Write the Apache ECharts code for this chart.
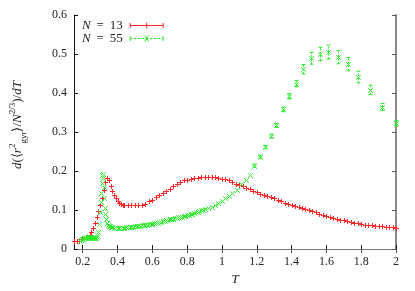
<!DOCTYPE html>
<html>
<head>
<meta charset="utf-8">
<script src="https://cdn.jsdelivr.net/npm/echarts@6/dist/echarts.min.js"></script>
<style>
html,body{margin:0;padding:0;background:#fff;}
#chart{width:415px;height:291px;}
</style>
</head>
<body>
<div id="chart"></div>
<script>
// ---- data ----
const xTicks = [0.2, 0.4, 0.6, 0.8, 1, 1.2, 1.4, 1.6, 1.8, 2];
const yTicks = [0, 0.1, 0.2, 0.3, 0.4, 0.5, 0.6];
const seriesNames = ['N = 13', 'N = 55'];

const redT = [0.15,0.165,0.18,0.195,0.21,0.225,0.24,0.25,0.26,0.27,0.28,0.29,0.30,0.31,0.32,0.33,0.34,0.35,0.36,0.37,0.38,0.39,0.40,0.41,0.42,0.43,0.44,0.46,0.48,0.50,0.52,0.54,0.56,0.58,0.60,0.62,0.64,0.66,0.68,0.70,0.72,0.74,0.76,0.78,0.80,0.82,0.84,0.86,0.88,0.90,0.92,0.94,0.96,0.98,1.00,1.02,1.04,1.06,1.08,1.10,1.12,1.14,1.16,1.18,1.20,1.22,1.24,1.26,1.28,1.30,1.32,1.34,1.36,1.38,1.40,1.42,1.44,1.46,1.48,1.50,1.52,1.54,1.56,1.58,1.60,1.62,1.64,1.66,1.68,1.70,1.72,1.74,1.76,1.78,1.80,1.82,1.84,1.86,1.88,1.90,1.92,1.94,1.96,1.98,2.00];
const redV = [0.020,0.020,0.021,0.025,0.029,0.032,0.036,0.045,0.055,0.067,0.082,0.097,0.113,0.132,0.152,0.172,0.182,0.177,0.163,0.150,0.138,0.130,0.124,0.119,0.116,0.114,0.113,0.112,0.113,0.114,0.114,0.112,0.116,0.122,0.127,0.133,0.139,0.144,0.148,0.155,0.162,0.168,0.173,0.176,0.178,0.179,0.181,0.182,0.184,0.185,0.185,0.186,0.184,0.182,0.180,0.179,0.176,0.172,0.168,0.165,0.161,0.157,0.153,0.150,0.146,0.142,0.139,0.136,0.133,0.130,0.127,0.123,0.118,0.115,0.113,0.110,0.107,0.105,0.103,0.100,0.097,0.094,0.091,0.088,0.085,0.083,0.080,0.078,0.075,0.074,0.072,0.070,0.068,0.066,0.064,0.063,0.062,0.061,0.059,0.058,0.058,0.057,0.056,0.056,0.055];

const greenT = [0.185,0.19,0.195,0.20,0.205,0.21,0.215,0.22,0.225,0.23,0.235,0.24,0.245,0.25,0.255,0.26,0.265,0.27,0.275,0.28,0.285,0.29,0.295,0.30,0.303,0.306,0.309,0.312,0.315,0.318,0.321,0.324,0.327,0.33,0.335,0.34,0.345,0.35,0.355,0.36,0.37,0.38,0.39,0.40,0.41,0.42,0.43,0.44,0.45,0.46,0.47,0.48,0.49,0.50,0.51,0.52,0.53,0.54,0.55,0.56,0.57,0.58,0.59,0.60,0.61,0.62,0.63,0.64,0.65,0.66,0.67,0.68,0.69,0.70,0.71,0.72,0.73,0.74,0.75,0.76,0.77,0.78,0.79,0.80,0.81,0.82,0.83,0.84,0.85,0.86,0.87,0.88,0.89,0.90,0.92,0.94,0.96,0.98,1.00,1.02,1.04,1.06,1.085,1.11,1.136,1.16,1.187,1.217,1.249,1.281,1.313,1.349,1.387,1.427,1.468,1.514,1.561,1.610,1.665,1.722,1.784,1.851,1.922,1.998];
const greenV = [0.020,0.023,0.025,0.027,0.028,0.029,0.029,0.029,0.030,0.030,0.030,0.030,0.030,0.029,0.029,0.028,0.028,0.028,0.029,0.030,0.036,0.045,0.065,0.095,0.120,0.145,0.170,0.190,0.192,0.183,0.160,0.130,0.105,0.090,0.078,0.068,0.063,0.060,0.058,0.057,0.056,0.055,0.054,0.054,0.054,0.055,0.055,0.055,0.056,0.056,0.056,0.057,0.057,0.058,0.058,0.059,0.060,0.061,0.061,0.062,0.063,0.064,0.064,0.065,0.066,0.067,0.068,0.069,0.070,0.071,0.072,0.074,0.075,0.076,0.077,0.078,0.079,0.080,0.081,0.082,0.083,0.084,0.085,0.087,0.088,0.090,0.091,0.093,0.094,0.096,0.098,0.100,0.101,0.103,0.106,0.109,0.114,0.119,0.124,0.131,0.137,0.144,0.152,0.166,0.177,0.191,0.214,0.237,0.262,0.290,0.317,0.358,0.392,0.424,0.461,0.489,0.500,0.505,0.492,0.474,0.441,0.408,0.364,0.323];
const greenErr = greenT.map(function (t, i) { return 0; });
const greenErrTop = [0.004,0.004,0.004,0.005,0.005,0.006,0.007,0.008,0.012,0.015,0.017,0.018,0.017,0.017,0.015,0.012,0.009,0.007];
// error bars belong to the last 18 (sparse, high-T) points
for (let k = 0; k < greenErrTop.length; k++) greenErr[greenT.length - greenErrTop.length + k] = greenErrTop[k];

// ---- styles ----
const RED = '#ff2828';
const GREEN = '#28ec28';
const FONT = 'Liberation Serif';

function renderPlus(params, api) {
  const p = api.coord([api.value(0), api.value(1)]);
  const x = Math.round(p[0]) + 0.5, y = Math.round(p[1]) + 0.5, s = 2.5;
  const st = {stroke: RED, lineWidth: 1, fill: null};
  return {type: 'group', children: [
    {type: 'line', shape: {x1: x - s, y1: y, x2: x + s, y2: y}, style: st},
    {type: 'line', shape: {x1: x, y1: y - s, x2: x, y2: y + s}, style: st}
  ]};
}
function renderCross(params, api) {
  const p = api.coord([api.value(0), api.value(1)]);
  const x = Math.round(p[0]) + 0.5, y = Math.round(p[1]) + 0.5, s = 2.3;
  const st = {stroke: GREEN, lineWidth: 1, fill: null};
  const ch = [
    {type: 'line', shape: {x1: x - s, y1: y - s, x2: x + s, y2: y + s}, style: st},
    {type: 'line', shape: {x1: x - s, y1: y + s, x2: x + s, y2: y - s}, style: st}
  ];
  const e = api.value(2);
  if (e > 0) {
    const lo = api.coord([api.value(0), api.value(1) - e]);
    const hi = api.coord([api.value(0), api.value(1) + e]);
    const ds = {stroke: GREEN, lineWidth: 1, fill: null, lineDash: [2, 1.5]};
    ch.push({type: 'line', shape: {x1: x, y1: lo[1], x2: x, y2: hi[1]}, style: ds});
    ch.push({type: 'line', shape: {x1: x - 2, y1: lo[1], x2: x + 2, y2: lo[1]}, style: st});
    ch.push({type: 'line', shape: {x1: x - 2, y1: hi[1], x2: x + 2, y2: hi[1]}, style: st});
  }
  return {type: 'group', children: ch};
}

// legend sample icons (error-bar style samples)
const redIcon = 'path://M0,2H1V7H0Z M33,2H34V7H33Z M0,4H34V5H0Z M16.5,1.5H17.5V7.5H16.5Z';
let gp = 'path://M0,2H1V7H0Z M33,2H34V7H33Z';
for (let x = 0; x < 34; x += 4) gp += ' M' + x + ',4H' + Math.min(x + 2.5, 34) + 'V5H' + x + 'Z';
gp += ' M14.5,1.5L15.5,1.5L19.5,7.5L18.5,7.5Z M19.5,1.5L18.5,1.5L14.5,7.5L15.5,7.5Z';
const greenIcon = gp;

const redData = redT.map((t, i) => [t, redV[i], 0]);
const greenData = greenT.map((t, i) => [t, greenV[i], greenErr[i]]);

const chart = echarts.init(document.getElementById('chart'), null, {renderer: 'canvas'});
const tickLabel = {fontFamily: FONT, fontSize: 12, color: '#222'};

chart.setOption({
  animation: false,
  backgroundColor: '#fff',
  grid: {left: 70, right: 19, top: 15, bottom: 41.5, containLabel: false},
  legend: {
    orient: 'vertical', left: 82, top: 19, padding: 0, itemGap: 0,
    align: 'right', itemWidth: 34, itemHeight: 6, selectedMode: false,
    data: [{name: seriesNames[0], icon: redIcon}, {name: seriesNames[1], icon: greenIcon}],
    formatter: function (n) { return '{i|N}{r| \u2009=\u2009 ' + n.slice(4) + '}'; },
    textStyle: {fontFamily: FONT, fontSize: 13, color: '#222', lineHeight: 12, padding: [0, 2, 0, 0],
      rich: {
        i: {fontFamily: FONT, fontStyle: 'italic', fontSize: 13, color: '#222', lineHeight: 12},
        r: {fontFamily: FONT, fontSize: 13, color: '#222', lineHeight: 12}
      }}
  },
  xAxis: [{
    type: 'value', min: 0.15, max: 2, position: 'bottom',
    name: 'T', nameLocation: 'middle', nameGap: 23,
    nameTextStyle: {fontFamily: FONT, fontStyle: 'italic', fontSize: 13, color: '#222'},
    axisLine: {show: true, lineStyle: {color: '#111', width: 1}},
    axisTick: {show: true, inside: true, length: 4, customValues: xTicks, lineStyle: {color: '#111'}},
    axisLabel: Object.assign({show: true, margin: 7, customValues: xTicks}, tickLabel),
    splitLine: {show: false}
  }, {
    type: 'value', min: 0.15, max: 2, position: 'top',
    axisLine: {show: true, lineStyle: {color: '#777', width: 1}},
    axisTick: {show: true, inside: true, length: 4, customValues: xTicks, lineStyle: {color: '#555'}},
    axisLabel: {show: false}, splitLine: {show: false}
  }],
  yAxis: [{
    type: 'value', min: 0, max: 0.6, position: 'left',
    name: '{it|d}{rm|(⟨}{it|r}{sup|2}{sub|gyr}{rm|⟩/}{it|N}{sup|2/3}{rm|)/}{it|dT}',
    nameLocation: 'middle', nameGap: 46, nameRotate: 90,
    nameTextStyle: {
      fontFamily: FONT, fontSize: 13, color: '#222', lineHeight: 20, padding: [0, 0, 0, 14],
      rich: {
        it: {fontFamily: FONT, fontStyle: 'italic', fontSize: 13, color: '#222'},
        rm: {fontFamily: FONT, fontSize: 13, color: '#222'},
        sup: {fontFamily: FONT, fontSize: 9, color: '#222', verticalAlign: 'top', lineHeight: 20},
        sub: {fontFamily: FONT, fontSize: 9, color: '#222', verticalAlign: 'bottom', lineHeight: 20}
      }
    },
    axisLine: {show: true, lineStyle: {color: '#111', width: 1}},
    axisTick: {show: true, inside: true, length: 4, customValues: yTicks, lineStyle: {color: '#111'}},
    axisLabel: Object.assign({show: true, margin: 7, customValues: yTicks}, tickLabel),
    splitLine: {show: false}
  }, {
    type: 'value', min: 0, max: 0.6, position: 'right',
    axisLine: {show: true, lineStyle: {color: '#888', width: 2}},
    axisTick: {show: true, inside: true, length: 4, customValues: yTicks, lineStyle: {color: '#555'}},
    axisLabel: {show: false}, splitLine: {show: false}
  }],
  series: [{
    name: seriesNames[0], type: 'custom', xAxisIndex: 0, yAxisIndex: 0,
    itemStyle: {color: RED}, data: redData, encode: {x: 0, y: 1}, renderItem: renderPlus, clip: false
  }, {
    name: seriesNames[1], type: 'custom', xAxisIndex: 0, yAxisIndex: 0,
    itemStyle: {color: GREEN}, data: greenData, encode: {x: 0, y: 1}, renderItem: renderCross, clip: false
  }]
});
</script>
</body>
</html>
